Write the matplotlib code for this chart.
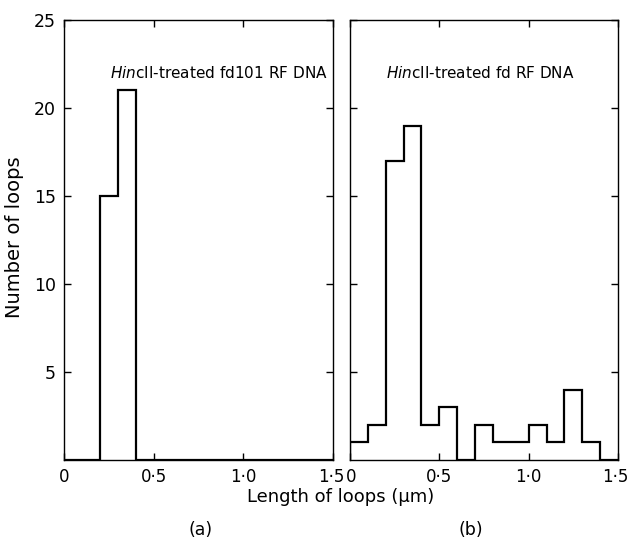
import matplotlib
matplotlib.use("Agg")
import matplotlib.pyplot as plt
from matplotlib.transforms import ScaledTranslation

bin_edges = [0.0, 0.1, 0.2, 0.3, 0.4, 0.5, 0.6, 0.7, 0.8, 0.9, 1.0, 1.1, 1.2, 1.3, 1.4, 1.5]
counts_fd101 = [0, 0, 15, 21, 0, 0, 0, 0, 0, 0, 0, 0, 0, 0, 0]
counts_fd = [1, 2, 17, 19, 2, 3, 0, 2, 1, 1, 2, 1, 4, 1, 0]
x_ticks = [0, 0.5, 1.0, 1.5]
x_ticklabels = ["0", "0·5", "1·0", "1·5"]
y_ticks = [5, 10, 15, 20, 25]
y_ticklabels = ["5", "10", "15", "20", "25"]
title_a = r"$\it{Hin}$cII-treated fd101 RF DNA"
title_b = r"$\it{Hin}$cII-treated fd RF DNA"

plt.rcParams['font.family'] = ['DejaVu Sans']
plt.rcParams['mathtext.fontset'] = 'dejavusans'

fig = plt.figure(figsize=(6.3, 5.42), dpi=100)
ax_a = fig.add_axes([0.1016, 0.1513, 0.427, 0.8118])
ax_b = fig.add_axes([0.5556, 0.1513, 0.4254, 0.8118])

for ax, counts in ((ax_a, counts_fd101), (ax_b, counts_fd)):
    ax.stairs(counts, bin_edges, baseline=0, color='black', linewidth=1.6)
    ax.set_xlim(0, 1.5)
    ax.set_ylim(0, 25)
    ax.set_xticks(x_ticks)
    ax.set_xticklabels(x_ticklabels, fontsize=12)
    ax.set_yticks(y_ticks)
    ax.tick_params(direction='in', length=5, width=1, top=True, right=True,
                   pad=6, labelsize=12)
    for s in ax.spines.values():
        s.set_linewidth(1.0)

ax_a.set_yticklabels(y_ticklabels, fontsize=12.5)
ax_b.set_yticklabels([])

# nudge the crowded end labels slightly
lab_a_last = ax_a.get_xticklabels()[-1]
lab_a_last.set_transform(lab_a_last.get_transform() + ScaledTranslation(-2 / 100, 0, fig.dpi_scale_trans))
lab_b_first = ax_b.get_xticklabels()[0]
lab_b_first.set_transform(lab_b_first.get_transform() + ScaledTranslation(1.5 / 100, 0, fig.dpi_scale_trans))
lab_b_last = ax_b.get_xticklabels()[-1]
lab_b_last.set_transform(lab_b_last.get_transform() + ScaledTranslation(-3 / 100, 0, fig.dpi_scale_trans))

ax_a.text(1.47, 22.0, title_a, ha='right', va='center', fontsize=11)
ax_b.text(0.2, 22.0, title_b, ha='left', va='center', fontsize=11)

fig.text(15 / 630, 1 - 237 / 542, "Number of loops", rotation=90,
         ha='center', va='center', fontsize=14)
fig.text(0.54, 1 - 497 / 542, "Length of loops (μm)", ha='center', va='center', fontsize=13)
fig.text(0.318, 0.022, "(a)", ha='center', va='center', fontsize=12.5)
fig.text(0.748, 0.022, "(b)", ha='center', va='center', fontsize=12.5)

fig.savefig("out.png", dpi=100)
